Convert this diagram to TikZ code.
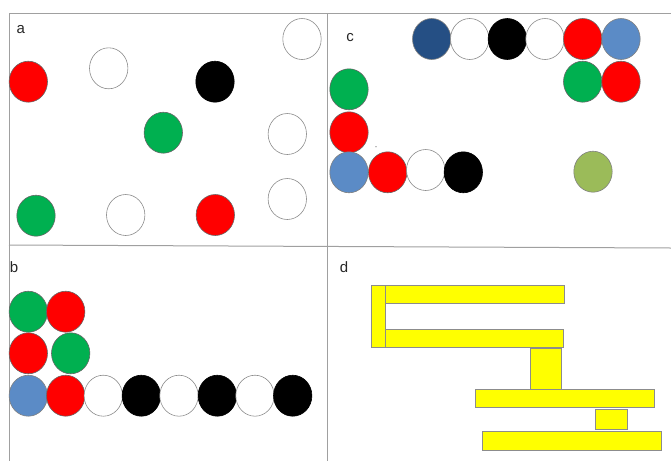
\documentclass[tikz,border=0pt]{standalone}
\usepackage{fontspec}
\setmainfont{Liberation Sans}
\usetikzlibrary{shapes.geometric}
\definecolor{bead red}{HTML}{FF0000}
\definecolor{bead green}{HTML}{00B050}
\definecolor{bead blue}{HTML}{5B8BC6}
\definecolor{bead navy}{HTML}{254F84}
\definecolor{bead olive}{HTML}{9BBB59}
\definecolor{frame gray}{HTML}{A0A0A0}
\definecolor{block yellow}{HTML}{FFFF00}
\tikzset{
  bead/.style={ellipse, inner sep=0pt, minimum width=38.4pt, minimum height=41pt, line width=0.6pt},
  rb/.style={bead, fill=bead red, draw=black!60},
  gb/.style={bead, fill=bead green, draw=black!60},
  bb/.style={bead, fill=bead blue, draw=black!50},
  nb/.style={bead, fill=bead navy, draw=black!50},
  kb/.style={bead, fill=black, draw=black},
  wb/.style={bead, fill=white, draw=black!45},
  ob/.style={bead, fill=bead olive, draw=black!50},
  frame/.style={draw=frame gray, line width=1pt},
  panel label/.style={inner sep=0pt, font=\fontsize{15}{15}\selectfont, text=black!85},
  block/.style={fill=block yellow, draw=black!45, line width=0.7pt}
}
\begin{document}
\begin{tikzpicture}[x=1pt,y=-1pt]
\useasboundingbox (0,0) rectangle (671,461);
% panel frame
\coordinate (tl) at (9,13.5);
\coordinate (tr) at (671,13.5);
\coordinate (bl) at (9,461);
\coordinate (mt) at (327,13.5);
\coordinate (mb) at (327,461);
\coordinate (ml) at (9,245);
\coordinate (mr) at (671,248);
\draw[frame] (tr) -- (tl) -- (bl);
\draw[frame] (mt) -- (mb);
\draw[frame] (ml) -- (mr);

% panel a: scattered beads
\node[panel label] (la) at (20.7,30) {a};
\node[rb] (a1) at (28.3,81.7) {};
\node[wb] (a2) at (108.7,68.3) {};
\node[kb] (a3) at (215,81.7) {};
\node[wb] (a4) at (302,39) {};
\node[gb] (a5) at (163.3,132.7) {};
\node[wb] (a6) at (287.3,134) {};
\node[wb] (a7) at (287.3,199) {};
\node[gb] (a8) at (36,215.7) {};
\node[wb] (a9) at (125.7,215) {};
\node[rb] (a10) at (215.3,215) {};

% panel c: partly assembled chains
\node[panel label] (lc) at (350,37.3) {c};
\node[nb] (c1) at (431.7,39) {};
\node[wb] (c2) at (469.7,39) {};
\node[kb] (c3) at (507.3,39) {};
\node[wb] (c4) at (545,39) {};
\node[rb] (c5) at (582.7,39) {};
\node[bb] (c6) at (621,39) {};
\node[gb] (c7) at (582.7,81.7) {};
\node[rb] (c8) at (621,81.7) {};
\node[gb] (c9) at (349,89.3) {};
\node[rb] (c10) at (349,132.3) {};
\node[bb] (c11) at (349,172.3) {};
\node[rb] (c12) at (387.7,172.3) {};
\node[wb] (c13) at (425.7,170) {};
\node[kb] (c14) at (463.3,172.3) {};
\node[ob] (c15) at (593,171.7) {};
\fill[black!60] (376,146.7) circle (0.6pt);

% panel b: packed arrangement
\node[panel label] (lb) at (14,266.7) {b};
\node[gb] (b1) at (28.3,311.7) {};
\node[rb] (b2) at (65.7,311.7) {};
\node[rb] (b3) at (28.3,353.3) {};
\node[gb] (b4) at (70.7,353.3) {};
\node[bb] (b5) at (28.3,395.7) {};
\node[rb] (b6) at (65.7,395.7) {};
\node[wb] (b7) at (103.3,395.7) {};
\node[kb] (b8) at (141.3,395.7) {};
\node[wb] (b9) at (179,395.7) {};
\node[kb] (b10) at (217.3,395.7) {};
\node[wb] (b11) at (255,395.7) {};
\node[kb] (b12) at (292.7,395.7) {};

% panel d: stacked blocks
\node[panel label] (ld) at (344,266.7) {d};
\draw[block] (371.7,285) rectangle (385.7,347.7);
\draw[block] (385.7,285) rectangle (564.3,303.3);
\draw[block] (385.7,329.3) rectangle (563.7,347.7);
\draw[block] (530,348.3) rectangle (561.7,390.7);
\draw[block] (475,389) rectangle (654.3,407.3);
\draw[block] (595,409) rectangle (627.7,429);
\draw[block] (482.3,431) rectangle (661,450);
\end{tikzpicture}
\end{document}
